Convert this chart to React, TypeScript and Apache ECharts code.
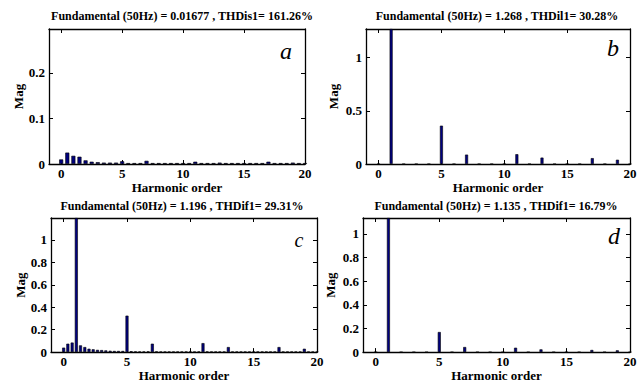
import React, { useEffect, useRef } from "react";
import * as echarts from "echarts";

// Harmonic orders (x values) for each panel
const ordersHalf = [0, 0.5, 1, 1.5, 2, 2.5, 3, 3.5, 4, 4.5, 5, 5.5, 6, 6.5, 7, 7.5, 8, 8.5, 9, 9.5, 10, 10.5, 11, 11.5, 12, 12.5, 13, 13.5, 14, 14.5, 15, 15.5, 16, 16.5, 17, 17.5, 18, 18.5, 19, 19.5, 20];
const ordersInt = [0, 1, 2, 3, 4, 5, 6, 7, 8, 9, 10, 11, 12, 13, 14, 15, 16, 17, 18, 19, 20];
const ordersThird = [0, 0.33, 0.67, 1, 1.33, 1.67, 2, 2.33, 2.67, 3, 3.33, 3.67, 4, 4.33, 4.67, 5, 5.33, 5.67, 6, 6.33, 6.67, 7, 7.33, 7.67, 8, 8.33, 8.67, 9, 9.33, 9.67, 10, 10.33, 10.67, 11, 11.33, 11.67, 12, 12.33, 12.67, 13, 13.33, 13.67, 14, 14.33, 14.67, 15, 15.33, 15.67, 16, 16.33, 16.67, 17, 17.33, 17.67, 18, 18.33, 18.67, 19, 19.33, 19.67, 20];

// Magnitudes
const magA = [0.010, 0.025, 0.018, 0.016, 0.008, 0.005, 0.004, 0.003, 0.003, 0.003, 0.006, 0.002, 0.002, 0.002, 0.007, 0.002, 0.002, 0.002, 0.002, 0.002, 0.002, 0.002, 0.005, 0.002, 0.002, 0.002, 0.003, 0.002, 0.002, 0.002, 0.002, 0.002, 0.002, 0.002, 0.005, 0.002, 0.002, 0.002, 0.003, 0.002, 0.002];
const magB = [0, 1.268, 0, 0, 0, 0.36, 0, 0.088, 0, 0, 0, 0.092, 0, 0.06, 0, 0, 0, 0.055, 0, 0.04, 0];
const magC = [0.04, 0.075, 0.085, 1.196, 0.06, 0.045, 0.03, 0.025, 0.02, 0.018, 0.015, 0.012, 0.01, 0.01, 0.01, 0.325, 0.008, 0.006, 0.005, 0.005, 0.006, 0.075, 0.006, 0.004, 0.004, 0.004, 0.004, 0.004, 0.004, 0.004, 0.004, 0.004, 0.005, 0.08, 0.005, 0.004, 0.004, 0.004, 0.004, 0.045, 0.004, 0.004, 0.004, 0.004, 0.004, 0.004, 0.004, 0.004, 0.004, 0.004, 0.004, 0.045, 0.004, 0.004, 0.004, 0.004, 0.004, 0.03, 0.004, 0.004, 0.004];
const magD = [0, 1.135, 0, 0, 0, 0.17, 0, 0.043, 0, 0, 0, 0.037, 0, 0.023, 0, 0, 0, 0.018, 0, 0.015, 0];

const titles = [
  "Fundamental (50Hz) = 0.01677 , THDis1= 161.26%",
  "Fundamental (50Hz) = 1.268 , THDil1= 30.28%",
  "Fundamental (50Hz) = 1.196 , THDif1= 29.31%",
  "Fundamental (50Hz) = 1.135 , THDif1= 16.79%",
];
const letters = ["a", "b", "c", "d"];
const xTicks = [0, 5, 10, 15, 20];
const yTicksA = [0, 0.1, 0.2];
const yTicksB = [0, 0.5, 1];
const yTicksCD = [0, 0.2, 0.4, 0.6, 0.8, 1];
const yMax = [0.2966, 1.268, 1.196, 1.135];
const xMin = -1;
const xMax = 20;

const FONT = "Liberation Serif";

export default function App() {
  const ref = useRef<HTMLDivElement>(null);
  useEffect(() => {
    if (!ref.current) return;
    const chart = echarts.init(ref.current, undefined, { renderer: "svg" });

    const grids = [
      { left: 49, top: 29, width: 256, height: 135 },
      { left: 366, top: 29, width: 264, height: 135 },
      { left: 51, top: 218, width: 266, height: 135 },
      { left: 363, top: 218, width: 267, height: 136 },
    ];
    const panels = [
      { orders: ordersHalf, mags: magA, yTicks: yTicksA, barW: 4 },
      { orders: ordersInt, mags: magB, yTicks: yTicksB, barW: 3 },
      { orders: ordersThird, mags: magC, yTicks: yTicksCD, barW: 3 },
      { orders: ordersInt, mags: magD, yTicks: yTicksCD, barW: 3 },
    ];
    const titlePos = [
      [182, 16],
      [497, 16],
      [182, 206],
      [496, 206],
    ];
    const letterPos = [
      [286, 51, 24],
      [613, 48, 24],
      [299, 240, 20],
      [614, 236, 24],
    ];

    const axisLineStyle = { color: "#000", width: 1.3 };
    const labelStyle = {
      fontFamily: FONT,
      fontWeight: "bold" as const,
      fontSize: 13,
      color: "#000",
    };

    const xAxis: any[] = [];
    const yAxis: any[] = [];
    const series: any[] = [];
    panels.forEach((p, i) => {
      xAxis.push({
        type: "value",
        gridIndex: i,
        min: xMin,
        max: xMax,
        position: "bottom",
        axisLine: { show: true, onZero: false, lineStyle: axisLineStyle },
        axisTick: { show: true, inside: true, length: 4, customValues: xTicks, lineStyle: { color: "#000", width: 1 } },
        axisLabel: { show: true, customValues: xTicks, margin: 3, ...labelStyle },
        splitLine: { show: false },
        name: "Harmonic order",
        nameLocation: "middle",
        nameGap: 16,
        nameTextStyle: { ...labelStyle, fontSize: 13 },
      });
      xAxis.push({
        type: "value",
        gridIndex: i,
        min: xMin,
        max: xMax,
        position: "top",
        axisLine: { show: true, onZero: false, lineStyle: axisLineStyle },
        axisTick: { show: true, inside: true, length: 4, customValues: xTicks, lineStyle: { color: "#000", width: 1 } },
        axisLabel: { show: false },
        splitLine: { show: false },
      });
      yAxis.push({
        type: "value",
        gridIndex: i,
        min: 0,
        max: yMax[i],
        position: "left",
        axisLine: { show: true, onZero: false, lineStyle: axisLineStyle },
        axisTick: { show: true, inside: true, length: 4, customValues: p.yTicks, lineStyle: { color: "#000", width: 1 } },
        axisLabel: { show: true, customValues: p.yTicks, margin: 4, ...labelStyle },
        splitLine: { show: false },
        name: "Mag",
        nameLocation: "middle",
        nameGap: i % 2 === 0 ? 24 : 26,
        nameRotate: 90,
        nameTextStyle: { ...labelStyle, fontSize: 13 },
      });
      yAxis.push({
        type: "value",
        gridIndex: i,
        min: 0,
        max: yMax[i],
        position: "right",
        axisLine: { show: true, onZero: false, lineStyle: axisLineStyle },
        axisTick: { show: true, inside: true, length: 4, customValues: p.yTicks, lineStyle: { color: "#000", width: 1 } },
        axisLabel: { show: false },
        splitLine: { show: false },
      });
      series.push({
        type: "bar",
        xAxisIndex: 2 * i,
        yAxisIndex: 2 * i,
        barWidth: p.barW,
        data: p.orders.map((o, j) => [o, p.mags[j]]),
        itemStyle: { color: "#00007f", borderColor: "#000", borderWidth: 0.6 },
        silent: true,
      });
    });

    const graphics: any[] = [];
    titles.forEach((t, i) => {
      graphics.push({
        type: "text",
        x: titlePos[i][0],
        y: titlePos[i][1],
        style: {
          text: t,
          textAlign: "center",
          textVerticalAlign: "middle",
          fontFamily: FONT,
          fontWeight: "bold",
          fontSize: 12,
          fill: "#000",
        },
      });
    });
    letters.forEach((l, i) => {
      graphics.push({
        type: "text",
        x: letterPos[i][0],
        y: letterPos[i][1],
        style: {
          text: l,
          textAlign: "center",
          textVerticalAlign: "middle",
          fontFamily: FONT,
          fontStyle: "italic",
          fontSize: letterPos[i][2],
          fill: "#000",
        },
      });
    });

    chart.setOption({
      animation: false,
      backgroundColor: "#fff",
      grid: grids,
      xAxis,
      yAxis,
      series,
      graphic: graphics,
    });
    return () => chart.dispose();
  }, []);
  return (
    <div
      ref={ref}
      style={{ position: "absolute", left: 0, top: 0, width: 643, height: 383 }}
    />
  );
}
